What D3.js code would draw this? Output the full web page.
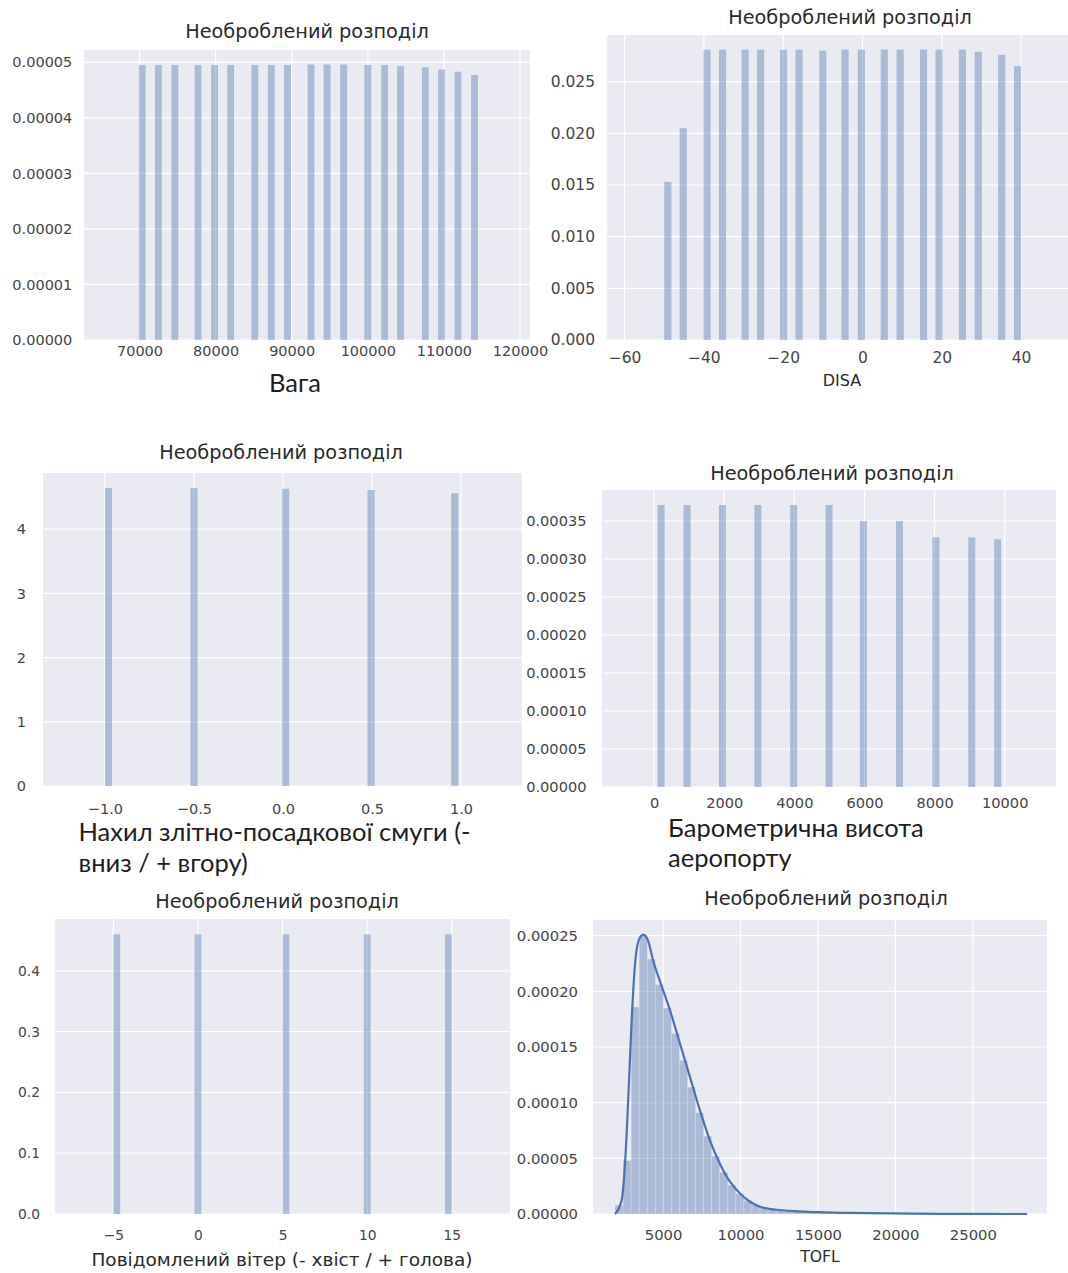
<!DOCTYPE html>
<html><head><meta charset="utf-8">
<script src="https://cdn.jsdelivr.net/npm/d3@7"></script>
<style>body{margin:0;background:#fff}svg{display:block}</style>
</head><body><svg id="c" width="1068" height="1273"></svg>
<script>
// ---------- DATA ----------
const titleText = "Необроблений розподіл";

const weightBins = [70360, 72480, 74650, 77690, 79860, 81980, 85150, 87320, 89450, 92540, 94650, 96830, 100000, 102210, 104300, 107560, 109690, 111850, 114020];
const weightDensity = [4.95e-5, 4.95e-5, 4.95e-5, 4.95e-5, 4.95e-5, 4.95e-5, 4.95e-5, 4.95e-5, 4.95e-5, 4.96e-5, 4.96e-5, 4.96e-5, 4.95e-5, 4.95e-5, 4.93e-5, 4.91e-5, 4.87e-5, 4.83e-5, 4.77e-5];
const weightXTicks = [70000, 80000, 90000, 100000, 110000, 120000];
const weightYTicks = [0, 0.00001, 0.00002, 0.00003, 0.00004, 0.00005];

const disaBins = [-49.1, -45.2, -39.2, -35.3, -29.6, -25.7, -19.9, -16.0, -10.0, -4.4, -0.3, 5.5, 9.5, 15.4, 19.3, 25.2, 29.2, 35.1, 39.1];
const disaDensity = [0.0153, 0.0205, 0.0281, 0.0281, 0.0281, 0.0281, 0.0281, 0.0281, 0.0280, 0.0281, 0.0281, 0.0281, 0.0281, 0.0281, 0.0281, 0.0281, 0.0279, 0.0276, 0.0265];
const disaXTicks = [-60, -40, -20, 0, 20, 40];
const disaYTicks = [0, 0.005, 0.010, 0.015, 0.020, 0.025];

const slopeBins = [-0.98, -0.50, 0.015, 0.495, 0.965];
const slopeDensity = [4.64, 4.64, 4.63, 4.61, 4.56];
const slopeXTicks = [-1.0, -0.5, 0.0, 0.5, 1.0];
const slopeYTicks = [0, 1, 2, 3, 4];

const altBins = [200, 940, 1950, 2960, 3980, 4990, 5970, 7000, 8040, 9060, 9800];
const altDensity = [0.000371, 0.000371, 0.000371, 0.000371, 0.000371, 0.000371, 0.000350, 0.000350, 0.0003285, 0.0003285, 0.000326];
const altXTicks = [0, 2000, 4000, 6000, 8000, 10000];
const altYTicks = [0, 0.00005, 0.00010, 0.00015, 0.00020, 0.00025, 0.00030, 0.00035];

const windBins = [-4.8, 0.0, 5.2, 10.0, 14.8];
const windDensity = [0.460, 0.460, 0.460, 0.460, 0.460];
const windXTicks = [-5, 0, 5, 10, 15];
const windYTicks = [0, 0.1, 0.2, 0.3, 0.4];

const toflBinLeft = [1900, 2420, 2940, 3460, 3980, 4500, 5020, 5540, 6060, 6580, 7100, 7620, 8140, 8660, 9180, 9700, 10220, 10740, 11260, 11780, 12300, 12820, 13340, 13860, 14380, 14900, 15420, 15940, 16460, 16980, 17500, 18020, 18540, 19060, 19580, 20100, 20620, 21140, 21660, 22180, 22700, 23220, 23740, 24260, 24780, 25300, 25820, 26340, 26860, 27380];
const toflDensity = [0.8e-5, 4.8e-5, 18.6e-5, 25.0e-5, 22.9e-5, 20.6e-5, 18.5e-5, 16.2e-5, 13.8e-5, 11.4e-5, 9.1e-5, 7.0e-5, 5.2e-5, 3.75e-5, 2.6e-5, 1.8e-5, 1.22e-5, 0.8e-5, 0.55e-5, 0.42e-5, 0.35e-5, 0.29e-5, 0.24e-5, 0.21e-5, 0.18e-5, 0.15e-5, 0.12e-5, 0.10e-5, 0.085e-5, 0.07e-5, 0.06e-5, 0.05e-5, 0.045e-5, 0.04e-5, 0.035e-5, 0.03e-5, 0.025e-5, 0.02e-5, 0.017e-5, 0.014e-5, 0.012e-5, 0.01e-5, 0.008e-5, 0.006e-5, 0.005e-5, 0.004e-5, 0.003e-5, 0.002e-5, 0.0015e-5, 0.001e-5];
const toflBinWidth = 520;
const toflKdeX = [1900, 2330, 2544, 2759, 2974, 3189, 3405, 3725, 4048, 4371, 4803, 5449, 6095, 6740, 7386, 8031, 8677, 9322, 9968, 10614, 11260, 11905, 12551, 13500, 15000, 17000, 20000, 23000, 26000, 28500];
const toflKdeY = [0, 1.25e-5, 4.5e-5, 10.5e-5, 17.4e-5, 22.4e-5, 24.5e-5, 25.1e-5, 24.5e-5, 22.7e-5, 20.9e-5, 18.3e-5, 15.3e-5, 12.3e-5, 9.3e-5, 6.6e-5, 4.5e-5, 2.9e-5, 1.85e-5, 1.1e-5, 0.65e-5, 0.45e-5, 0.36e-5, 0.25e-5, 0.16e-5, 0.1e-5, 0.05e-5, 0.02e-5, 0.005e-5, 0];
const toflXTicks = [5000, 10000, 15000, 20000, 25000];
const toflYTicks = [0, 0.00005, 0.00010, 0.00015, 0.00020, 0.00025];

// ---------- DRAW ----------
const svg = d3.select("#c");
svg.append("rect").attr("width", 1068).attr("height", 1273).attr("fill", "#fff");

const MPL = "'DejaVu Sans', sans-serif";
const WORD = "Lato, 'Open Sans', sans-serif";
const BG = "#eaeaf2", BAR = "#4c72b0", TXT = "#454545";

function panel(c) {
  const g = svg.append("g");
  const x = d3.scaleLinear().domain(c.xDomain).range([c.left, c.right]);
  const y = d3.scaleLinear().domain(c.yDomain).range([c.bottom, c.top]);
  g.append("rect").attr("x", c.left).attr("y", c.top)
    .attr("width", c.right - c.left).attr("height", c.bottom - c.top).attr("fill", BG);
  g.append("g").selectAll("line").data(c.yTicks).join("line")
    .attr("x1", c.left).attr("x2", c.right).attr("y1", d => y(d)).attr("y2", d => y(d))
    .attr("stroke", "#fff").attr("stroke-width", 1.2);
  g.append("g").selectAll("line").data(c.xTicks).join("line")
    .attr("x1", d => x(d)).attr("x2", d => x(d)).attr("y1", c.top).attr("y2", c.bottom)
    .attr("stroke", "#fff").attr("stroke-width", 1.2);

  g.append("g").selectAll("rect").data(c.bins).join("rect")
    .attr("x", d => x(c.binLeft(d)))
    .attr("width", d => x(c.binLeft(d) + c.bw) - x(c.binLeft(d)))
    .attr("y", (d, i) => y(c.dens[i]))
    .attr("height", (d, i) => y(0) - y(c.dens[i]))
    .attr("fill", BAR).attr("fill-opacity", 0.4)
    .attr("stroke", c.barStroke || "none").attr("stroke-width", c.barStroke ? 0.6 : 0);

  if (c.kdeX) {
    const line = d3.line().x(d => x(d[0])).y(d => y(d[1])).curve(d3.curveMonotoneX);
    g.append("path").datum(c.kdeX.map((v, i) => [v, c.kdeY[i]]))
      .attr("d", line).attr("fill", "none").attr("stroke", BAR).attr("stroke-width", 2.2);
  }

  const ax = g.append("g").attr("transform", `translate(0,${c.bottom})`)
    .call(d3.axisBottom(x).tickValues(c.xTicks).tickFormat(c.xFmt).tickSize(0));
  ax.select(".domain").remove();
  ax.attr("font-family", MPL).attr("font-size", c.fs);
  ax.selectAll("text").attr("y", c.xOff).attr("dy", 0).attr("fill", TXT);

  const ay = g.append("g").attr("transform", `translate(${c.left},0)`)
    .call(d3.axisLeft(y).tickValues(c.yTicks).tickFormat(c.yFmt).tickSize(0).tickPadding(c.yPad));
  ay.select(".domain").remove();
  ay.attr("font-family", MPL).attr("font-size", c.fs);
  ay.selectAll("text").attr("fill", TXT);

  g.append("text").attr("x", c.titleX).attr("y", c.titleY).attr("text-anchor", "middle")
    .attr("font-family", MPL).attr("font-size", 19.3).attr("fill", "#2a2a2a").text(titleText);

  c.labels.forEach(l => {
    g.append("text").attr("x", l.x).attr("y", l.y).attr("text-anchor", l.anchor)
      .attr("font-family", l.word ? WORD : MPL).attr("font-size", l.fs)
      .attr("fill", l.word ? "#1e1e1e" : "#2a2a2a").text(l.t);
  });
}

const centerLeft = bw => (d => d - bw / 2);

panel({ left: 84, right: 530, top: 50, bottom: 340,
  xDomain: [62707, 121314], yDomain: [0, 5.221e-5],
  bins: weightBins, dens: weightDensity, bw: 900, binLeft: centerLeft(900),
  xTicks: weightXTicks, yTicks: weightYTicks, xFmt: d3.format("d"), yFmt: d3.format(".5f"),
  fs: 14.5, xOff: 15.5, yPad: 11.7, titleX: 307, titleY: 38,
  labels: [{ t: "Вага", x: 295, y: 392, anchor: "middle", fs: 25.5, word: true }] });

panel({ left: 607, right: 1080, top: 35, bottom: 340,
  xDomain: [-64.43, 54.85], yDomain: [0, 0.02952],
  bins: disaBins, dens: disaDensity, bw: 1.8, binLeft: centerLeft(1.8),
  xTicks: disaXTicks, yTicks: disaYTicks, xFmt: d3.format("d"), yFmt: d3.format(".3f"),
  fs: 15.5, xOff: 23, yPad: 12, titleX: 850, titleY: 24,
  labels: [{ t: "DISA", x: 842, y: 386, anchor: "middle", fs: 16 }] });

panel({ left: 43, right: 522, top: 473, bottom: 786,
  xDomain: [-1.348, 1.343], yDomain: [0, 4.875],
  bins: slopeBins, dens: slopeDensity, bw: 0.04, binLeft: centerLeft(0.04),
  xTicks: slopeXTicks, yTicks: slopeYTicks, xFmt: d3.format(".1f"), yFmt: d3.format("d"),
  fs: 14.5, xOff: 28, yPad: 17, titleX: 281, titleY: 459,
  labels: [{ t: "Нахил злітно-посадкової смуги (-", x: 78.5, y: 841, anchor: "start", fs: 25.5, word: true },
           { t: "вниз / + вгору)", x: 78.5, y: 872, anchor: "start", fs: 25.5, word: true }] });

panel({ left: 602, right: 1056, top: 490, bottom: 787,
  xDomain: [-1486, 11463], yDomain: [0, 0.0003908],
  bins: altBins, dens: altDensity, bw: 200, binLeft: centerLeft(200),
  xTicks: altXTicks, yTicks: altYTicks, xFmt: d3.format("d"), yFmt: d3.format(".5f"),
  fs: 14.6, xOff: 21, yPad: 15.5, titleX: 832, titleY: 480,
  labels: [{ t: "Барометрична висота", x: 668, y: 837, anchor: "start", fs: 25.5, word: true },
           { t: "аеропорту", x: 668, y: 867, anchor: "start", fs: 25.5, word: true }] });

panel({ left: 55, right: 510, top: 919, bottom: 1214,
  xDomain: [-8.45, 18.44], yDomain: [0, 0.4852],
  bins: windBins, dens: windDensity, bw: 0.4, binLeft: centerLeft(0.4),
  xTicks: windXTicks, yTicks: windYTicks, xFmt: d3.format("d"), yFmt: d3.format(".1f"),
  fs: 13.8, xOff: 25.5, yPad: 15, titleX: 277, titleY: 908,
  labels: [{ t: "Повідомлений вітер (- хвіст / + голова)", x: 282, y: 1266, anchor: "middle", fs: 18.5 }] });

panel({ left: 593, right: 1047, top: 920, bottom: 1214,
  xDomain: [478, 29787], yDomain: [0, 0.0002641],
  bins: toflBinLeft, dens: toflDensity, bw: toflBinWidth, binLeft: d => d, barStroke: "rgba(234,234,242,0.55)",
  kdeX: toflKdeX, kdeY: toflKdeY,
  xTicks: toflXTicks, yTicks: toflYTicks, xFmt: d3.format("d"), yFmt: d3.format(".5f"),
  fs: 14.8, xOff: 26, yPad: 15, titleX: 826, titleY: 905,
  labels: [{ t: "TOFL", x: 820, y: 1262, anchor: "middle", fs: 15.7 }] });
</script>
</body></html>
